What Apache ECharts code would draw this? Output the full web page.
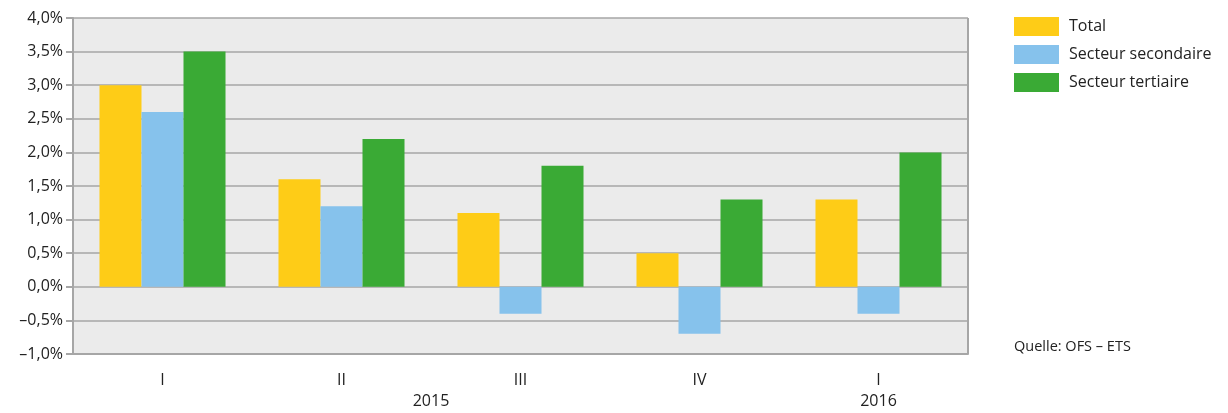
<!DOCTYPE html>
<html>
<head>
<meta charset="utf-8">
<script src="https://cdn.jsdelivr.net/npm/echarts@6/dist/echarts.min.js"></script>
<style>
  html, body { margin: 0; padding: 0; background: #fff; }
  #chart { width: 1228px; height: 413px; }
</style>
</head>
<body>
<div id="chart"></div>
<script>
// trimestres
const quarters = ['I', 'II', 'III', 'IV', 'I']
// séries (en %)
const totalValues = [3.0, 1.6, 1.1, 0.5, 1.3]
const secondaireValues = [2.6, 1.2, -0.4, -0.7, -0.4]
const tertiaireValues = [3.5, 2.2, 1.8, 1.3, 2.0]
// années sous l'axe
const years = [
  { label: '2015', from: 0, to: 3 },
  { label: '2016', from: 4, to: 4 }
]

const font = 'Open Sans'
const chart = echarts.init(document.getElementById('chart'))

const barSeries = (name, data, color) => ({
  name: name,
  type: 'bar',
  data: data,
  barGap: '0%',
  barCategoryGap: '29.6%',
  itemStyle: { color: color },
  emphasis: { disabled: true }
})

chart.setOption({
  animation: false,
  textStyle: { fontFamily: font },
  grid: { left: 73, right: 260, top: 18, bottom: 59, show: true, backgroundColor: '#ebebeb', borderWidth: 0 },
  legend: {
    orient: 'vertical',
    left: 1014,
    top: 17,
    padding: 0,
    itemWidth: 45,
    itemHeight: 19,
    itemGap: 9,
    icon: 'rect',
    textStyle: { fontSize: 16, color: '#222', fontFamily: font, padding: [0, 0, 0, 5] },
    data: ['Total', 'Secteur secondaire', 'Secteur tertiaire']
  },
  xAxis: {
    type: 'category',
    data: quarters,
    axisLine: { onZero: false, lineStyle: { color: '#a6a6a6', width: 2 } },
    axisTick: { show: false },
    axisLabel: { fontSize: 16, color: '#222', margin: 18, fontFamily: font }
  },
  yAxis: {
    type: 'value',
    min: -1,
    max: 4,
    interval: 0.5,
    axisLine: { show: true, lineStyle: { color: '#a6a6a6', width: 2 } },
    axisTick: { show: true, length: 7, lineStyle: { color: '#a6a6a6', width: 2 } },
    splitLine: { lineStyle: { color: '#a6a6a6', width: 1.5 } },
    axisLabel: {
      fontSize: 16,
      color: '#222',
      margin: 10,
      fontFamily: font,
      formatter: v => (v < 0 ? '\u2013' : '') + Math.abs(v).toFixed(1).replace('.', ',') + '%'
    }
  },
  series: [
    barSeries('Total', totalValues, '#fecc17'),
    barSeries('Secteur secondaire', secondaireValues, '#86c2ec'),
    barSeries('Secteur tertiaire', tertiaireValues, '#3aaa35')
  ]
})

// bordure droite + années + source
const bottomRight = chart.convertToPixel({ gridIndex: 0 }, [4.5, -1])
const topRight = chart.convertToPixel({ gridIndex: 0 }, [4.5, 4])
const graphics = [
  {
    type: 'line',
    shape: { x1: 968, y1: topRight[1], x2: 968, y2: bottomRight[1] },
    style: { stroke: '#a6a6a6', lineWidth: 2 }
  },
  {
    type: 'text',
    x: 1014,
    y: 347,
    style: { text: 'Quelle: OFS \u2013 ETS', fontSize: 14.5, fill: '#222', fontFamily: font, verticalAlign: 'middle' }
  }
]
years.forEach(y => {
  const a = chart.convertToPixel({ xAxisIndex: 0 }, y.from)
  const b = chart.convertToPixel({ xAxisIndex: 0 }, y.to)
  graphics.push({
    type: 'text',
    x: (a + b) / 2,
    y: 401,
    style: { text: y.label, fontSize: 16, fill: '#222', fontFamily: font, align: 'center', verticalAlign: 'middle' }
  })
})
chart.setOption({ graphic: graphics })
</script>
</body>
</html>
